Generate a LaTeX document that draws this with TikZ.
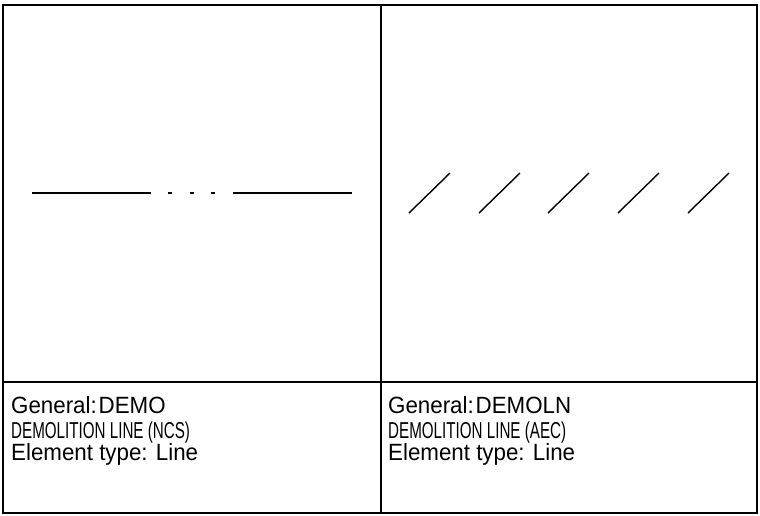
\documentclass[tikz,border=0pt]{standalone}
\usepackage{fontspec}
\usepackage{graphicx}
\setmainfont{Liberation Sans}
\newcommand{\mainlbl}[1]{\scalebox{0.95}[1]{#1}}
\newcommand{\sublbl}[1]{\scalebox{0.66}[1]{#1}}
\begin{document}
\begin{tikzpicture}[x=1pt,y=-1pt,
  frame/.style={line width=1.7pt,black},
  stroke/.style={line width=1.7pt,black},
  lbl/.style={anchor=base west,inner sep=0pt,font=\fontsize{23.5}{25}\selectfont},
  sub/.style={anchor=base west,inner sep=0pt,font=\fontsize{23}{25}\selectfont}]
\useasboundingbox (0,0) rectangle (760,515);
\draw[frame] (3,5) rectangle (757,513);
\draw[frame] (381,5) -- (381,513);
\draw[frame] (3,382) -- (757,382);
% left pattern
\draw[stroke] (32,193) -- (151,193);
\draw[stroke] (168,193) -- (172,193);
\draw[stroke] (190,193) -- (194,193);
\draw[stroke] (211,193) -- (215,193);
\draw[stroke] (233,193) -- (352,193);
% right pattern
\foreach \x in {409,479,548,618,688}
  \draw[stroke,line width=1.4pt] (\x,213) -- ++(41,-40);
% labels
\node[lbl] (g1) at (11,413) {\mainlbl{General:\hspace{2pt}DEMO}};
\node[sub] (d1) at (11,438) {\sublbl{DEMOLITION LINE (NCS)}};
\node[lbl] (e1) at (11,460) {\mainlbl{Element type: Line}};
\node[lbl] (g2) at (388,413) {\mainlbl{General:\hspace{2pt}DEMOLN}};
\node[sub] (d2) at (388,438) {\sublbl{DEMOLITION LINE (AEC)}};
\node[lbl] (e2) at (388,460) {\mainlbl{Element type: Line}};
\end{tikzpicture}
\end{document}
